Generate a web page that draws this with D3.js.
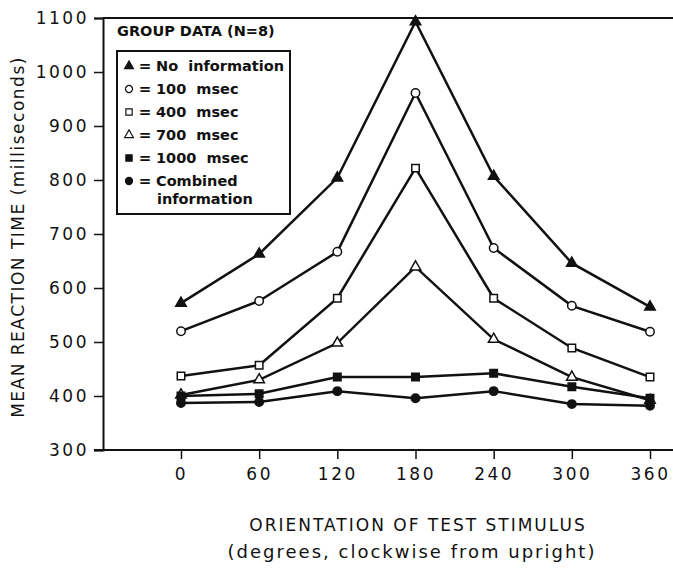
<!DOCTYPE html>
<html>
<head>
<meta charset="utf-8">
<script src="https://cdn.jsdelivr.net/npm/d3@7"></script>
<style>
body { margin: 0; background: #fff; }
text { font-family: "DejaVu Sans", sans-serif; fill: #111; }
</style>
</head>
<body>
<script>
// orientation of test stimulus (degrees)
var orientations = [0, 60, 120, 180, 240, 300, 360]
var yTicks = [300, 400, 500, 600, 700, 800, 900, 1000, 1100]

var noInfo   = [572, 663, 804, 1093, 807, 646, 565]
var ms100    = [520, 576, 667, 961, 674, 567, 519]
var ms400    = [437, 457, 581, 822, 581, 489, 435]
var ms700    = [402, 430, 498, 639, 505, 435, 392]
var ms1000   = [400, 404, 435, 435, 442, 417, 396]
var combined = [387, 389, 409, 396, 409, 385, 382]

var seriesNames = ["No  information", "100  msec", "400  msec", "700  msec", "1000  msec", "Combined"]
var seriesValues = [noInfo, ms100, ms400, ms700, ms1000, combined]
var seriesShapes = [d3.symbolTriangle, d3.symbolCircle, d3.symbolSquare, d3.symbolTriangle, d3.symbolSquare, d3.symbolCircle]
var seriesFilled = [true, false, false, false, true, true]

var w = 673
var h = 568

var svg = d3.select("body")
	.append("svg")
	.attr("width", w)
	.attr("height", h)

// Scales
var xScale = d3.scaleLinear()
	.domain([0, 360])
	.range([181, 650])

var yScale = d3.scaleLinear()
	.domain([300, 1100])
	.range([450, 18])

var left = 103

function symSize(shape){
	if(shape == d3.symbolTriangle) return 48
	return 56
}

// Axes
var yAxis = d3.axisLeft(yScale).tickValues(yTicks).tickSize(9).tickPadding(5).tickFormat(d3.format("d"))

var gy = svg.append("g")
	.attr("transform", "translate(" + left + ",0)")
	.call(yAxis)
gy.select(".domain").attr("stroke", "#111").attr("stroke-width", 2)
gy.selectAll(".tick line").attr("stroke", "#111").attr("stroke-width", 1.5)
gy.selectAll(".tick text")
	.style("font-size", "17px")
	.style("letter-spacing", "2.5px")
	.attr("fill", "#111")

// top frame line
svg.append("line")
	.attr("x1", left).attr("x2", w)
	.attr("y1", yScale(1100)).attr("y2", yScale(1100))
	.attr("stroke", "#111").attr("stroke-width", 2)

// bottom axis, running to the page edge
svg.append("line")
	.attr("x1", left - 9).attr("x2", w)
	.attr("y1", yScale(300)).attr("y2", yScale(300))
	.attr("stroke", "#111").attr("stroke-width", 2)

var xAxis = d3.axisBottom(xScale).tickValues(orientations).tickSize(9).tickPadding(9)
var gx = svg.append("g")
	.attr("transform", "translate(0," + yScale(300) + ")")
	.call(xAxis)
gx.select(".domain").remove()
gx.selectAll(".tick line").attr("stroke", "#111").attr("stroke-width", 1.5)
gx.selectAll(".tick text")
	.style("font-size", "17px")
	.style("letter-spacing", "2.5px")
	.attr("fill", "#111")

// Axis titles
svg.append("text")
	.attr("transform", "translate(24,237) rotate(-90)")
	.attr("text-anchor", "middle")
	.style("font-size", "17px")
	.style("letter-spacing", "1.5px")
	.text("MEAN REACTION TIME (milliseconds)")

svg.append("text")
	.attr("x", 418).attr("y", 531)
	.attr("text-anchor", "middle")
	.style("font-size", "17px")
	.style("letter-spacing", "2px")
	.text("ORIENTATION OF TEST STIMULUS")

svg.append("text")
	.attr("x", 412).attr("y", 558)
	.attr("text-anchor", "middle")
	.style("font-size", "18px")
	.style("letter-spacing", "2px")
	.text("(degrees, clockwise from upright)")

// Lines
var line = d3.line()
	.x((d, i) => xScale(orientations[i]))
	.y((d) => yScale(d))

svg.append("g")
	.selectAll("path")
	.data(seriesValues)
	.enter()
	.append("path")
	.attr("d", (d) => line(d))
	.attr("fill", "none")
	.attr("stroke", "#111")
	.attr("stroke-width", 2.5)

// Markers
seriesValues.forEach(function(vals, s){
	svg.append("g")
		.selectAll("path")
		.data(vals)
		.enter()
		.append("path")
		.attr("transform", (d, i) => "translate(" + xScale(orientations[i]) + "," + yScale(d) + ")")
		.attr("d", d3.symbol().type(seriesShapes[s]).size(symSize(seriesShapes[s])))
		.attr("fill", seriesFilled[s] ? "#111" : "#fff")
		.attr("stroke", "#111")
		.attr("stroke-width", 1.5)
})

// Legend
svg.append("text")
	.attr("x", 117).attr("y", 36)
	.style("font-size", "14.5px")
	.style("font-weight", "bold")
	.text("GROUP DATA (N=8)")

var legend = svg.append("g")

legend.append("rect")
	.attr("x", 117).attr("y", 51)
	.attr("width", 173).attr("height", 163)
	.attr("fill", "#fff")
	.attr("stroke", "#111")
	.attr("stroke-width", 2)

legend.selectAll("path")
	.data(seriesNames)
	.enter()
	.append("path")
	.attr("transform", (d, i) => "translate(129," + (66 + i * 23) + ")")
	.attr("d", (d, i) => d3.symbol().type(seriesShapes[i]).size(symSize(seriesShapes[i]) * 0.7)())
	.attr("fill", (d, i) => seriesFilled[i] ? "#111" : "#fff")
	.attr("stroke", "#111")
	.attr("stroke-width", 1.2)

legend.selectAll("text.eq")
	.data(seriesNames)
	.enter()
	.append("text")
	.attr("class", "eq")
	.attr("x", 145)
	.attr("y", (d, i) => 66 + i * 23)
	.attr("dy", "0.35em")
	.attr("text-anchor", "middle")
	.style("font-size", "15px")
	.style("font-weight", "bold")
	.text("=")

legend.selectAll("text.lab")
	.data(seriesNames)
	.enter()
	.append("text")
	.attr("class", "lab")
	.attr("x", 156)
	.attr("y", (d, i) => 66 + i * 23)
	.attr("dy", "0.35em")
	.style("font-size", "14.5px")
	.style("font-weight", "bold")
	.style("white-space", "pre")
	.text((d) => d)

legend.append("text")
	.attr("x", 157)
	.attr("y", 66 + 5 * 23 + 18)
	.attr("dy", "0.35em")
	.style("font-size", "14.5px")
	.style("font-weight", "bold")
	.text("information")
</script>
</body>
</html>
